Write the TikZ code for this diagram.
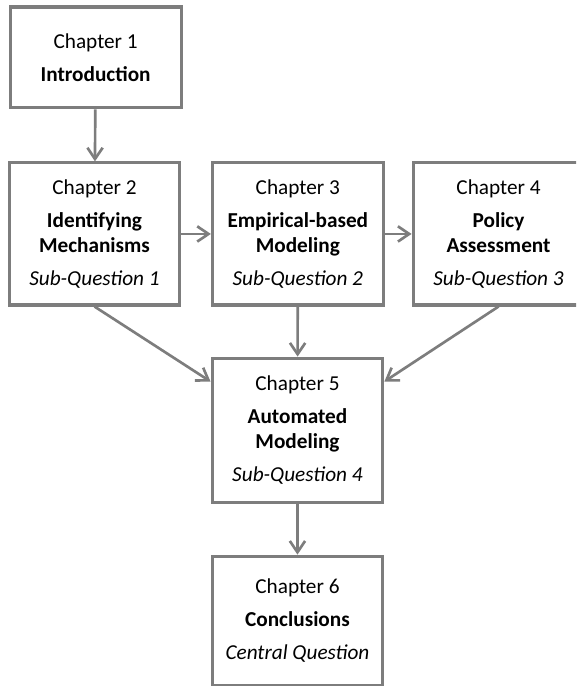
\documentclass[tikz,border=0pt]{standalone}
\usepackage{fontspec}
\setmainfont{Carlito}
\usetikzlibrary{positioning,arrows.meta}
\definecolor{boxgray}{RGB}{125,125,125}

\begin{document}
\begin{tikzpicture}[chapbox/.style={draw=boxgray, line width=2.3pt, rectangle, minimum width=4.52cm, align=center, inner sep=0pt, font=\fontsize{16}{19}\selectfont},
    link/.style={draw=boxgray, line width=2pt, -{Straight Barb[length=8.5pt,width=11.5pt,line width=2pt]}}]
    \clip (0,0) rectangle (15.24,18.15);

    % Chapter 1
    \node[chapbox, minimum height=2.67cm] (ch1) at (2.53, 16.63) {Chapter 1\\[6pt]\textbf{Introduction}};

    % Chapters 2-4
    \node[chapbox, minimum height=3.76cm] (ch2) at (2.50, 11.96) {Chapter 2\\[6pt]\textbf{Identifying}\\\textbf{Mechanisms}\\[6pt]\textit{Sub-Question 1}};
    \node[chapbox, minimum height=3.76cm] (ch3) at (7.88, 11.96) {Chapter 3\\[6pt]\textbf{Empirical-based}\\\textbf{Modeling}\\[6pt]\textit{Sub-Question 2}};
    \node[chapbox, minimum height=3.76cm] (ch4) at (13.19, 11.96) {Chapter 4\\[6pt]\textbf{Policy}\\\textbf{Assessment}\\[6pt]\textit{Sub-Question 3}};

    % Chapter 5
    \node[chapbox, minimum height=3.81cm] (ch5) at (7.87, 6.77) {Chapter 5\\[6pt]\textbf{Automated}\\\textbf{Modeling}\\[6pt]\textit{Sub-Question 4}};

    % Chapter 6
    \node[chapbox, minimum height=3.41cm] (ch6) at (7.87, 1.73) {Chapter 6\\[6pt]\textbf{Conclusions}\\[6pt]\textit{Central Question}};

    % Arrows
    \draw[link] (ch1) -- (ch2);
    \draw[link] (ch2) -- (ch3);
    \draw[link] (ch3) -- (ch4);
    \draw[link] (ch2.south) -- ([yshift=-0.66cm]ch5.north west);
    \draw[link] (ch3) -- (ch5);
    \draw[link] (ch4.south) -- ([yshift=-0.66cm]ch5.north east);
    \draw[link] (ch5) -- (ch6);

\end{tikzpicture}
\end{document}
